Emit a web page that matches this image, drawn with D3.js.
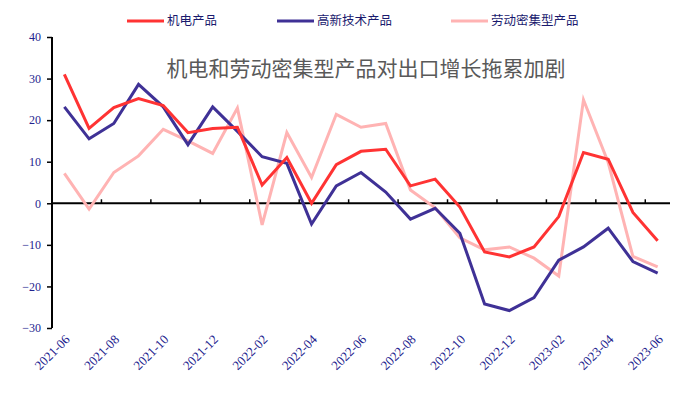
<!DOCTYPE html>
<html>
<head>
<meta charset="utf-8">
<script src="https://cdn.jsdelivr.net/npm/d3@7"></script>
<style>
  body { margin: 0; background: #fff; }
  svg { display: block; }
</style>
</head>
<body>
<div class="svg"></div>
<script>
// monthly export growth (%), 2021-06 .. 2023-06
var months = ["2021-06","2021-07","2021-08","2021-09","2021-10","2021-11","2021-12",
  "2022-01","2022-02","2022-03","2022-04","2022-05","2022-06","2022-07","2022-08",
  "2022-09","2022-10","2022-11","2022-12","2023-01","2023-02","2023-03","2023-04",
  "2023-05","2023-06"];
var jidian = [31, 18, 23, 25.2, 23.5, 17, 18, 18.3, 4.4, 11, 0, 9.3, 12.5, 13, 4.2,
  5.8, -0.9, -11.7, -12.9, -10.5, -3.2, 12.2, 10.6, -2.2, -9];
var gaoxin = [23.2, 15.5, 19.2, 28.6, 23.2, 14.1, 23.2, 17.3, 11.2, 9.6, -5, 4.2, 7.4,
  2.7, -3.8, -1.2, -7.2, -24.2, -25.8, -22.7, -13.7, -10.5, -6, -14, -16.8];
var laodong = [7.2, -1.4, 7.4, 11.4, 17.8, 15, 12, 22.9, -5.2, 17, 6.2, 21.4, 18.3, 19.2,
  3.2, -1.1, -8.3, -11.2, -10.5, -13.2, -17.5, 24.9, 9.8, -12.8, -15.3];
var yTicks = [-30, -20, -10, 0, 10, 20, 30, 40];
var seriesNames = ["机电产品", "高新技术产品", "劳动密集型产品"];
var seriesColors = ["#ff3333", "#3f3196", "#ffb3b3"];
var title = "机电和劳动密集型产品对出口增长拖累加剧";

var width = 691, height = 394;
var plotLeft = 52, plotRight = 670, plotTop = 37, plotBottom = 328;

var svg = d3.select("div.svg").append("svg")
  .attr("width", width).attr("height", height);

var x = d3.scaleBand().domain(months).range([plotLeft, plotRight]);
var y = d3.scaleLinear().domain([-30, 40]).range([plotBottom, plotTop]);

var labelColor = "#23238e";

// y axis
var yAxis = svg.append("g")
  .attr("transform", "translate(" + plotLeft + ",0)")
  .call(d3.axisLeft(y).tickValues(yTicks).tickSize(5).tickPadding(6)
    .tickFormat(function (d) { return d < 0 ? "\u2212" + (-d) : d; }));
yAxis.select(".domain").attr("stroke", "#000").attr("stroke-width", 2)
  .attr("d", "M0," + plotTop + "V" + plotBottom);
yAxis.selectAll(".tick line").attr("stroke", "#000").attr("stroke-width", 1.5);
yAxis.selectAll("text")
  .style("font-family", "'Liberation Serif', 'Times New Roman', serif")
  .style("font-size", "12px")
  .attr("fill", labelColor);

// zero line with ticks every two months
var bounds = months.filter(function (d, i) { return i % 2 === 0 && i > 0; });
var zero = svg.append("g").attr("transform", "translate(0," + y(0) + ")");
zero.append("line")
  .attr("x1", plotLeft).attr("x2", plotRight)
  .attr("stroke", "#000").attr("stroke-width", 2);
zero.selectAll("line.tk").data(bounds).enter().append("line")
  .attr("class", "tk")
  .attr("x1", function (d) { return x(d); })
  .attr("x2", function (d) { return x(d); })
  .attr("y1", 0).attr("y2", -4)
  .attr("stroke", "#000").attr("stroke-width", 1.5);

// x labels, rotated
var labelMonths = months.filter(function (d, i) { return i % 2 === 0; });
svg.selectAll("text.xl").data(labelMonths).enter().append("text")
  .attr("class", "xl")
  .attr("transform", function (d) {
    return "translate(" + (x(d) + x.bandwidth() / 2 + 3) + "," + (plotBottom + 9) + ") rotate(-45)";
  })
  .attr("text-anchor", "end")
  .attr("dy", "0.35em")
  .style("font-family", "'Liberation Serif', 'Times New Roman', serif")
  .style("font-size", "13px")
  .attr("fill", labelColor)
  .text(function (d) { return d; });

// lines
var line = d3.line()
  .x(function (d, i) { return x(months[i]) + x.bandwidth() / 2; })
  .y(function (d) { return y(d); });

[laodong, gaoxin, jidian].forEach(function (s, k) {
  var c = [seriesColors[2], seriesColors[1], seriesColors[0]][k];
  svg.append("path").datum(s)
    .attr("d", line)
    .attr("fill", "none")
    .attr("stroke", c)
    .attr("stroke-width", 3)
    .attr("stroke-linejoin", "miter");
});

// title
svg.append("text")
  .attr("x", 366).attr("y", 76)
  .attr("text-anchor", "middle")
  .style("font-family", "'Noto Sans CJK SC', sans-serif")
  .style("font-size", "21px")
  .attr("fill", "#595959")
  .text(title);

// legend
var legendX = [127, 277, 451];
var legend = svg.selectAll("g.lg").data(seriesNames).enter().append("g")
  .attr("class", "lg")
  .attr("transform", function (d, i) { return "translate(" + legendX[i] + ",21)"; });
legend.append("line")
  .attr("x1", 0).attr("x2", 37)
  .attr("stroke", function (d, i) { return seriesColors[i]; })
  .attr("stroke-width", 3);
legend.append("text")
  .attr("x", 40).attr("dy", "0.35em")
  .style("font-family", "'Noto Sans CJK SC', sans-serif")
  .style("font-size", "12.5px")
  .attr("fill", "#1a1a6e")
  .text(function (d) { return d; });
</script>
</body>
</html>
